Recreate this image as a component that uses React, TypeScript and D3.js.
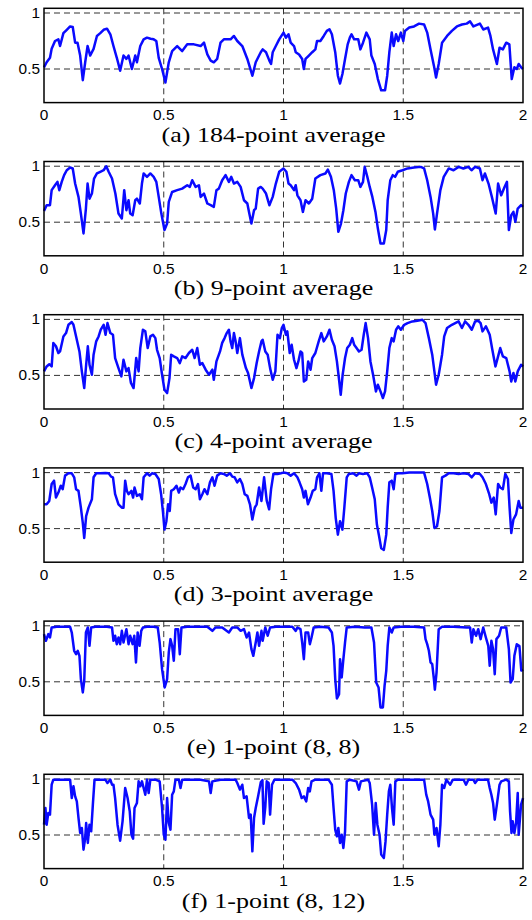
import React, { useEffect, useRef } from "react";
import * as d3 from "d3";

// panel captions, top to bottom
const captions = [
  "(a) 184-point average",
  "(b) 9-point average",
  "(c) 4-point average",
  "(d) 3-point average",
  "(e) 1-point (8, 8)",
  "(f) 1-point (8, 12)",
];

const xTicks = [0, 0.5, 1, 1.5, 2];
const xTickLabels = ["0", "0.5", "1", "1.5", "2"];
const yTicks = [0.5, 1];
const yTickLabels = ["0.5", "1"];

// [x, value]
const avg184: [number, number][] = [
  [0,0.515],[0.011,0.56],[0.025,0.6],[0.032,0.68],[0.046,0.75],[0.06,0.765],[0.067,0.705],[0.081,0.82],[0.095,0.85],[0.109,0.88],[0.12,0.875],[0.13,0.735],[0.14,0.735],[0.151,0.62],[0.162,0.4],[0.172,0.56],[0.182,0.705],[0.193,0.62],[0.207,0.68],[0.221,0.795],[0.235,0.82],[0.249,0.85],[0.263,0.86],[0.277,0.81],[0.29,0.705],[0.304,0.6],[0.318,0.485],[0.332,0.62],[0.344,0.59],[0.353,0.62],[0.367,0.5],[0.381,0.62],[0.388,0.56],[0.402,0.705],[0.416,0.765],[0.43,0.78],[0.445,0.77],[0.458,0.765],[0.469,0.75],[0.479,0.6],[0.493,0.5],[0.507,0.38],[0.521,0.56],[0.535,0.66],[0.556,0.705],[0.577,0.66],[0.598,0.72],[0.626,0.72],[0.654,0.705],[0.668,0.735],[0.682,0.63],[0.696,0.575],[0.709,0.56],[0.723,0.59],[0.737,0.735],[0.751,0.765],[0.779,0.765],[0.793,0.795],[0.807,0.75],[0.828,0.705],[0.849,0.59],[0.87,0.44],[0.884,0.56],[0.905,0.65],[0.913,0.675],[0.927,0.65],[0.941,0.575],[0.948,0.545],[0.955,0.65],[0.968,0.705],[0.982,0.765],[1.0,0.825],[1.01,0.78],[1.021,0.81],[1.03,0.735],[1.044,0.705],[1.051,0.65],[1.065,0.63],[1.078,0.59],[1.085,0.5],[1.092,0.59],[1.106,0.62],[1.12,0.65],[1.133,0.675],[1.14,0.75],[1.154,0.75],[1.168,0.795],[1.181,0.84],[1.192,0.855],[1.202,0.81],[1.216,0.65],[1.227,0.44],[1.236,0.37],[1.246,0.455],[1.257,0.59],[1.268,0.72],[1.277,0.78],[1.284,0.81],[1.295,0.765],[1.312,0.765],[1.321,0.675],[1.332,0.735],[1.346,0.825],[1.36,0.765],[1.367,0.62],[1.381,0.545],[1.394,0.41],[1.408,0.31],[1.424,0.31],[1.433,0.44],[1.442,0.65],[1.452,0.825],[1.46,0.705],[1.47,0.81],[1.479,0.75],[1.49,0.825],[1.5,0.75],[1.507,0.84],[1.525,0.87],[1.545,0.88],[1.566,0.905],[1.587,0.897],[1.6,0.825],[1.614,0.675],[1.628,0.53],[1.637,0.425],[1.648,0.545],[1.662,0.735],[1.683,0.795],[1.703,0.84],[1.724,0.88],[1.745,0.897],[1.765,0.905],[1.779,0.925],[1.793,0.88],[1.82,0.905],[1.834,0.853],[1.854,0.87],[1.864,0.795],[1.875,0.675],[1.891,0.545],[1.902,0.69],[1.916,0.675],[1.93,0.735],[1.943,0.72],[1.953,0.41],[1.964,0.515],[1.974,0.5],[1.982,0.545],[1.992,0.515],[2.0,0.5],
];

const avg9: [number, number][] = [
  [0,0.6],[0.011,0.652],[0.025,0.652],[0.032,0.786],[0.046,0.83],[0.056,0.86],[0.064,0.786],[0.074,0.86],[0.084,0.92],[0.095,0.964],[0.109,0.988],[0.12,0.98],[0.13,0.845],[0.144,0.726],[0.154,0.577],[0.165,0.4],[0.175,0.622],[0.182,0.845],[0.19,0.71],[0.2,0.756],[0.209,0.89],[0.221,0.935],[0.235,0.95],[0.249,0.964],[0.26,1.0],[0.27,0.95],[0.284,0.89],[0.298,0.756],[0.311,0.577],[0.325,0.533],[0.335,0.786],[0.344,0.607],[0.353,0.696],[0.36,0.577],[0.37,0.562],[0.381,0.696],[0.388,0.71],[0.4,0.667],[0.409,0.845],[0.416,0.935],[0.43,0.905],[0.444,0.935],[0.458,0.905],[0.469,0.86],[0.479,0.726],[0.49,0.577],[0.503,0.43],[0.514,0.488],[0.521,0.682],[0.535,0.77],[0.556,0.786],[0.577,0.8],[0.598,0.83],[0.609,0.815],[0.619,0.875],[0.633,0.815],[0.647,0.83],[0.654,0.726],[0.668,0.756],[0.682,0.667],[0.696,0.652],[0.709,0.637],[0.72,0.786],[0.73,0.8],[0.744,0.875],[0.758,0.92],[0.772,0.86],[0.782,0.905],[0.793,0.845],[0.807,0.86],[0.821,0.815],[0.835,0.696],[0.849,0.667],[0.856,0.592],[0.866,0.488],[0.877,0.607],[0.884,0.622],[0.894,0.8],[0.905,0.815],[0.913,0.8],[0.927,0.756],[0.941,0.652],[0.955,0.726],[0.968,0.845],[0.982,0.95],[1.0,0.98],[1.012,0.95],[1.021,0.845],[1.03,0.83],[1.044,0.786],[1.051,0.83],[1.058,0.74],[1.071,0.696],[1.081,0.592],[1.092,0.696],[1.106,0.667],[1.12,0.71],[1.133,0.89],[1.154,0.92],[1.175,0.935],[1.185,0.97],[1.198,0.905],[1.21,0.786],[1.22,0.622],[1.229,0.414],[1.24,0.488],[1.25,0.607],[1.26,0.756],[1.273,0.86],[1.284,0.92],[1.298,0.875],[1.312,0.875],[1.321,0.815],[1.332,0.86],[1.339,0.994],[1.35,0.905],[1.36,0.815],[1.371,0.726],[1.384,0.592],[1.394,0.443],[1.405,0.31],[1.419,0.31],[1.429,0.43],[1.435,0.696],[1.446,0.875],[1.456,0.92],[1.466,0.905],[1.477,0.95],[1.497,0.964],[1.518,0.98],[1.545,0.988],[1.573,0.994],[1.587,0.98],[1.6,0.875],[1.614,0.726],[1.625,0.577],[1.632,0.435],[1.641,0.577],[1.655,0.786],[1.669,0.905],[1.69,0.98],[1.71,0.964],[1.731,0.994],[1.751,0.98],[1.772,0.994],[1.785,0.964],[1.8,0.994],[1.82,0.98],[1.831,0.875],[1.841,0.935],[1.856,0.845],[1.87,0.726],[1.886,0.577],[1.896,0.845],[1.909,0.74],[1.923,0.815],[1.933,0.86],[1.941,0.43],[1.951,0.562],[1.96,0.592],[1.968,0.503],[1.978,0.622],[1.992,0.652],[2.0,0.637],
];

const avg4: [number, number][] = [
  [0,0.536],[0.011,0.58],[0.022,0.6],[0.032,0.58],[0.039,0.79],[0.05,0.76],[0.06,0.7],[0.067,0.714],[0.081,0.848],[0.092,0.878],[0.102,0.952],[0.116,0.976],[0.123,0.952],[0.134,0.848],[0.148,0.714],[0.158,0.536],[0.168,0.387],[0.176,0.595],[0.183,0.76],[0.19,0.595],[0.2,0.506],[0.207,0.685],[0.218,0.804],[0.228,0.848],[0.237,0.908],[0.249,0.952],[0.257,0.863],[0.265,0.967],[0.277,0.878],[0.288,0.863],[0.297,0.655],[0.311,0.565],[0.323,0.491],[0.332,0.64],[0.344,0.536],[0.353,0.565],[0.363,0.432],[0.374,0.387],[0.385,0.655],[0.395,0.536],[0.402,0.744],[0.413,0.908],[0.423,0.893],[0.433,0.744],[0.444,0.848],[0.455,0.863],[0.465,0.833],[0.472,0.729],[0.483,0.655],[0.493,0.506],[0.503,0.372],[0.514,0.342],[0.524,0.476],[0.531,0.685],[0.542,0.67],[0.556,0.655],[0.567,0.61],[0.577,0.67],[0.591,0.655],[0.605,0.7],[0.619,0.729],[0.629,0.655],[0.64,0.744],[0.651,0.595],[0.661,0.61],[0.675,0.551],[0.689,0.506],[0.703,0.551],[0.709,0.461],[0.72,0.625],[0.735,0.714],[0.744,0.79],[0.754,0.833],[0.763,0.878],[0.772,0.908],[0.779,0.804],[0.786,0.744],[0.793,0.878],[0.8,0.804],[0.807,0.7],[0.818,0.833],[0.828,0.685],[0.843,0.565],[0.852,0.521],[0.866,0.387],[0.877,0.476],[0.888,0.61],[0.898,0.714],[0.908,0.804],[0.913,0.818],[0.924,0.714],[0.934,0.685],[0.944,0.565],[0.955,0.461],[0.966,0.536],[0.975,0.863],[0.985,0.833],[0.993,0.923],[1.0,0.952],[1.01,0.863],[1.016,0.893],[1.026,0.7],[1.034,0.774],[1.044,0.64],[1.054,0.565],[1.062,0.625],[1.071,0.714],[1.078,0.7],[1.085,0.446],[1.095,0.461],[1.103,0.625],[1.113,0.551],[1.12,0.655],[1.133,0.7],[1.147,0.804],[1.158,0.878],[1.168,0.804],[1.181,0.848],[1.192,0.908],[1.202,0.818],[1.213,0.76],[1.223,0.625],[1.232,0.461],[1.239,0.327],[1.247,0.506],[1.257,0.655],[1.266,0.744],[1.277,0.774],[1.287,0.833],[1.295,0.774],[1.305,0.744],[1.315,0.714],[1.326,0.729],[1.335,0.863],[1.343,0.967],[1.353,0.833],[1.363,0.625],[1.374,0.506],[1.386,0.357],[1.394,0.417],[1.405,0.357],[1.415,0.298],[1.424,0.357],[1.433,0.536],[1.442,0.744],[1.452,0.833],[1.46,0.804],[1.47,0.908],[1.479,0.938],[1.49,0.908],[1.504,0.952],[1.518,0.967],[1.538,0.982],[1.559,0.988],[1.58,0.997],[1.593,0.967],[1.607,0.833],[1.621,0.685],[1.63,0.536],[1.637,0.417],[1.648,0.506],[1.662,0.685],[1.671,0.848],[1.683,0.923],[1.703,0.952],[1.717,0.967],[1.731,0.982],[1.745,0.923],[1.758,0.982],[1.772,0.952],[1.786,0.908],[1.8,0.982],[1.813,0.988],[1.823,0.967],[1.831,0.893],[1.845,0.938],[1.861,0.863],[1.872,0.729],[1.885,0.58],[1.896,0.67],[1.905,0.744],[1.916,0.67],[1.93,0.655],[1.944,0.536],[1.951,0.446],[1.96,0.521],[1.968,0.446],[1.978,0.536],[1.992,0.595],[2.0,0.58],
];

const avg3: [number, number][] = [
  [0,0.717],[0.011,0.717],[0.022,0.747],[0.032,0.898],[0.042,0.928],[0.05,0.777],[0.06,0.822],[0.07,0.883],[0.078,0.852],[0.088,0.973],[0.102,0.994],[0.116,0.994],[0.126,0.958],[0.134,0.852],[0.144,0.837],[0.154,0.687],[0.162,0.551],[0.168,0.416],[0.176,0.611],[0.186,0.687],[0.2,0.762],[0.207,0.958],[0.218,0.994],[0.235,0.994],[0.256,0.997],[0.27,0.994],[0.28,0.964],[0.288,0.958],[0.297,0.807],[0.311,0.717],[0.325,0.687],[0.332,0.687],[0.339,0.928],[0.346,0.837],[0.353,0.807],[0.365,0.837],[0.372,0.777],[0.378,0.867],[0.388,0.792],[0.4,0.807],[0.409,0.762],[0.416,0.958],[0.43,0.994],[0.441,0.973],[0.451,0.994],[0.465,0.988],[0.479,0.943],[0.489,0.807],[0.497,0.642],[0.503,0.491],[0.511,0.566],[0.518,0.717],[0.525,0.657],[0.531,0.837],[0.542,0.852],[0.553,0.883],[0.563,0.822],[0.57,0.867],[0.581,0.852],[0.591,0.898],[0.601,0.958],[0.612,0.973],[0.623,0.867],[0.633,0.852],[0.643,0.898],[0.651,0.762],[0.661,0.807],[0.67,0.852],[0.682,0.807],[0.693,0.913],[0.703,0.958],[0.712,0.883],[0.723,0.973],[0.737,0.994],[0.751,0.988],[0.763,0.973],[0.777,0.994],[0.786,0.964],[0.796,0.958],[0.807,0.913],[0.818,0.943],[0.828,0.898],[0.838,0.807],[0.849,0.792],[0.86,0.717],[0.87,0.581],[0.88,0.687],[0.888,0.717],[0.898,0.867],[0.908,0.747],[0.919,0.958],[0.93,0.75],[0.94,0.672],[0.948,0.85],[0.958,0.99],[0.975,0.988],[0.989,0.994],[1.0,1.0],[1.016,0.994],[1.03,0.973],[1.044,0.994],[1.058,0.958],[1.067,0.913],[1.078,0.852],[1.085,0.777],[1.092,0.837],[1.102,0.717],[1.113,0.777],[1.122,0.837],[1.133,0.852],[1.14,0.958],[1.15,0.994],[1.158,0.837],[1.165,0.994],[1.181,0.994],[1.2,0.988],[1.209,0.837],[1.218,0.596],[1.227,0.446],[1.236,0.566],[1.246,0.491],[1.254,0.687],[1.264,0.958],[1.273,0.988],[1.291,0.994],[1.305,0.973],[1.315,0.994],[1.332,0.988],[1.35,0.994],[1.36,0.958],[1.37,0.867],[1.381,0.762],[1.39,0.536],[1.398,0.446],[1.408,0.325],[1.419,0.31],[1.429,0.446],[1.435,0.687],[1.442,0.913],[1.452,0.928],[1.46,0.852],[1.467,0.988],[1.477,0.994],[1.497,0.994],[1.525,1.0],[1.559,1.0],[1.587,1.0],[1.6,0.898],[1.611,0.777],[1.621,0.657],[1.63,0.506],[1.641,0.521],[1.651,0.657],[1.662,0.958],[1.676,0.973],[1.69,0.994],[1.71,0.994],[1.731,0.988],[1.751,0.994],[1.772,0.988],[1.786,0.958],[1.8,0.994],[1.82,0.988],[1.831,0.958],[1.845,0.898],[1.859,0.807],[1.868,0.732],[1.878,0.777],[1.886,0.627],[1.896,0.898],[1.905,0.867],[1.916,0.852],[1.926,0.988],[1.937,0.943],[1.944,0.687],[1.951,0.461],[1.96,0.581],[1.971,0.627],[1.982,0.747],[1.989,0.687],[2.0,0.687],
];

const one88: [number, number][] = [
  [0,0.926],[0.008,0.866],[0.018,0.926],[0.025,0.896],[0.032,0.985],[0.053,0.991],[0.081,0.991],[0.109,0.991],[0.116,0.94],[0.126,0.777],[0.134,0.747],[0.141,0.777],[0.148,0.732],[0.154,0.524],[0.162,0.405],[0.168,0.509],[0.175,0.94],[0.183,0.985],[0.19,0.821],[0.197,0.985],[0.214,0.991],[0.235,0.991],[0.263,0.991],[0.284,0.985],[0.29,0.866],[0.297,0.911],[0.304,0.836],[0.311,0.896],[0.318,0.836],[0.325,0.955],[0.332,0.851],[0.344,0.97],[0.353,0.836],[0.36,0.911],[0.37,0.836],[0.377,0.911],[0.384,0.673],[0.391,0.94],[0.399,0.821],[0.406,0.955],[0.413,0.985],[0.43,0.991],[0.458,0.991],[0.475,0.985],[0.483,0.851],[0.493,0.613],[0.504,0.449],[0.514,0.524],[0.521,0.762],[0.528,0.881],[0.535,0.821],[0.542,0.688],[0.549,0.97],[0.56,0.97],[0.567,0.747],[0.574,0.985],[0.598,0.991],[0.64,0.991],[0.682,0.991],[0.703,0.955],[0.716,0.985],[0.744,0.985],[0.772,0.94],[0.786,0.985],[0.807,0.985],[0.821,0.955],[0.835,0.97],[0.846,0.896],[0.856,0.94],[0.866,0.792],[0.874,0.732],[0.884,0.851],[0.891,0.94],[0.898,0.821],[0.908,0.955],[0.913,0.866],[0.924,0.985],[0.934,0.911],[0.944,0.985],[0.968,0.991],[1.0,0.991],[1.037,0.991],[1.051,0.955],[1.058,0.985],[1.071,0.97],[1.078,0.851],[1.085,0.702],[1.092,0.94],[1.103,0.94],[1.11,0.836],[1.117,0.896],[1.126,0.985],[1.154,0.991],[1.188,0.985],[1.202,0.94],[1.209,0.821],[1.216,0.524],[1.223,0.351],[1.232,0.39],[1.236,0.702],[1.243,0.539],[1.25,0.702],[1.257,0.851],[1.264,0.985],[1.298,0.991],[1.339,0.985],[1.367,0.985],[1.378,0.851],[1.387,0.494],[1.397,0.449],[1.405,0.271],[1.415,0.271],[1.422,0.464],[1.429,0.598],[1.435,0.821],[1.442,0.985],[1.452,0.94],[1.46,0.985],[1.49,0.991],[1.545,0.991],[1.587,0.985],[1.593,0.881],[1.6,0.836],[1.607,0.777],[1.614,0.673],[1.621,0.658],[1.628,0.524],[1.632,0.429],[1.639,0.583],[1.648,0.97],[1.662,0.991],[1.71,0.991],[1.765,0.985],[1.779,0.985],[1.786,0.851],[1.793,0.97],[1.804,0.911],[1.813,0.97],[1.823,0.881],[1.834,0.985],[1.845,0.896],[1.855,0.821],[1.861,0.643],[1.868,0.866],[1.875,0.792],[1.882,0.568],[1.889,0.881],[1.9,0.911],[1.909,0.985],[1.93,0.985],[1.941,0.792],[1.948,0.494],[1.957,0.524],[1.964,0.732],[1.974,0.836],[1.985,0.82],[1.993,0.6],[2.0,0.61],
];

const one812: [number, number][] = [
  [0,0.592],[0.006,0.741],[0.011,0.592],[0.018,0.696],[0.025,0.682],[0.032,0.949],[0.039,0.994],[0.067,0.994],[0.109,0.994],[0.116,0.83],[0.123,0.935],[0.13,0.845],[0.137,0.8],[0.144,0.652],[0.151,0.518],[0.158,0.563],[0.165,0.369],[0.172,0.473],[0.176,0.607],[0.183,0.429],[0.19,0.592],[0.197,0.533],[0.204,0.771],[0.211,0.994],[0.235,0.994],[0.256,0.994],[0.265,0.964],[0.277,0.994],[0.284,0.949],[0.29,0.949],[0.297,0.83],[0.307,0.592],[0.318,0.449],[0.328,0.622],[0.339,0.92],[0.349,0.83],[0.358,0.711],[0.365,0.503],[0.372,0.467],[0.378,0.741],[0.388,0.786],[0.395,0.979],[0.402,0.935],[0.409,0.979],[0.416,0.92],[0.423,0.86],[0.43,0.994],[0.437,0.875],[0.444,0.994],[0.465,0.994],[0.483,0.979],[0.493,0.741],[0.5,0.503],[0.507,0.458],[0.514,0.83],[0.521,0.607],[0.528,0.548],[0.535,0.86],[0.542,0.89],[0.549,0.994],[0.563,0.994],[0.57,0.92],[0.577,0.994],[0.654,0.994],[0.689,0.979],[0.696,0.875],[0.703,0.979],[0.737,0.994],[0.8,0.994],[0.807,0.964],[0.818,0.905],[0.828,0.949],[0.835,0.83],[0.846,0.845],[0.856,0.652],[0.863,0.682],[0.87,0.354],[0.877,0.652],[0.884,0.741],[0.894,0.845],[0.905,0.97],[0.912,0.99],[0.917,0.6],[0.924,0.75],[0.93,0.979],[0.938,0.964],[0.944,0.682],[0.952,0.949],[0.962,0.994],[1.0,0.994],[1.037,0.994],[1.051,0.964],[1.065,0.905],[1.076,0.83],[1.085,0.845],[1.095,0.8],[1.103,0.92],[1.11,0.89],[1.117,0.979],[1.133,0.994],[1.188,0.994],[1.202,0.949],[1.209,0.741],[1.216,0.548],[1.223,0.488],[1.229,0.563],[1.236,0.429],[1.243,0.503],[1.25,0.384],[1.257,0.533],[1.264,0.979],[1.277,0.994],[1.305,0.979],[1.315,0.905],[1.323,0.979],[1.353,0.994],[1.36,0.964],[1.37,0.771],[1.378,0.503],[1.385,0.786],[1.392,0.592],[1.401,0.503],[1.408,0.325],[1.419,0.295],[1.426,0.443],[1.433,0.682],[1.44,0.89],[1.446,0.949],[1.453,0.741],[1.46,0.592],[1.467,0.979],[1.477,0.994],[1.518,0.994],[1.587,0.994],[1.596,0.86],[1.604,0.8],[1.614,0.682],[1.625,0.637],[1.63,0.503],[1.639,0.563],[1.648,0.399],[1.655,0.592],[1.662,0.949],[1.671,0.92],[1.68,0.994],[1.696,0.949],[1.707,0.994],[1.738,0.994],[1.752,0.994],[1.762,0.949],[1.772,0.994],[1.793,0.994],[1.8,0.964],[1.81,0.994],[1.834,0.994],[1.854,0.994],[1.861,0.92],[1.868,0.86],[1.875,0.786],[1.882,0.637],[1.891,0.771],[1.902,0.949],[1.909,0.979],[1.93,0.994],[1.941,0.979],[1.946,0.711],[1.952,0.518],[1.957,0.622],[1.964,0.518],[1.971,0.607],[1.978,0.875],[1.982,0.503],[1.992,0.771],[2.0,0.83],
];

const panels = [avg184, avg9, avg4, avg3, one88, one812];

export default function App() {
  const ref = useRef<SVGSVGElement>(null);

  useEffect(() => {
    const svg = d3.select(ref.current);
    svg.selectAll("*").remove();

    const left = 44, right = 523;
    const plotH = 94.3;
    const x = d3.scaleLinear().domain([0, 2]).range([left, right]);

    panels.forEach((data, i) => {
      const top = 8.3 + i * 153.2;
      const y = d3.scaleLinear().domain([0.2, 1.042]).range([top + plotH, top]);
      const g = svg.append("g");

      // dashed grid
      g.selectAll(".vgrid")
        .data(xTicks.slice(1, -1))
        .enter().append("line")
        .attr("x1", (d) => x(d)).attr("x2", (d) => x(d))
        .attr("y1", top).attr("y2", top + plotH)
        .attr("stroke", "#333").attr("stroke-width", 1)
        .attr("stroke-dasharray", "6,4");
      g.selectAll(".hgrid")
        .data(yTicks)
        .enter().append("line")
        .attr("x1", left).attr("x2", right)
        .attr("y1", (d) => y(d)).attr("y2", (d) => y(d))
        .attr("stroke", "#333").attr("stroke-width", 1)
        .attr("stroke-dasharray", "6,4");

      const line = d3.line<[number, number]>()
        .x((d) => x(d[0]))
        .y((d) => y(d[1]));

      g.append("path")
        .datum(data)
        .attr("d", line)
        .attr("fill", "none")
        .attr("stroke", "#0a0aff")
        .attr("stroke-width", 2.5)
        .attr("stroke-linejoin", "round");

      g.append("rect")
        .attr("x", left).attr("y", top)
        .attr("width", right - left).attr("height", plotH)
        .attr("fill", "none").attr("stroke", "#000").attr("stroke-width", 1.5);

      // tick labels
      g.selectAll(".ylab")
        .data(yTicks)
        .enter().append("text")
        .attr("transform", (d) => "translate(40," + y(d) + ") scale(1.1,1)")
        .attr("dy", "0.36em")
        .attr("text-anchor", "end")
        .style("font-family", "'Liberation Sans', Arial, sans-serif")
        .style("font-size", "14px")
        .text((d, j) => yTickLabels[j]);

      g.selectAll(".xlab")
        .data(xTicks)
        .enter().append("text")
        .attr("transform", (d) => "translate(" + x(d) + "," + (top + plotH + 17.7) + ") scale(1.1,1)")
        .attr("text-anchor", "middle")
        .style("font-family", "'Liberation Sans', Arial, sans-serif")
        .style("font-size", "14px")
        .text((d, j) => xTickLabels[j]);

      g.append("text")
        .attr("transform", "translate(273.5," + (top + plotH + 39) + ") scale(1.24,1)")
        .attr("text-anchor", "middle")
        .style("font-family", "'Liberation Serif', 'Times New Roman', serif")
        .style("font-size", "21px")
        .text(captions[i]);
    });
  }, []);

  return (
    <svg
      ref={ref}
      width={532}
      height={920}
      style={{ position: "absolute", left: 0, top: 0, background: "#fff" }}
    />
  );
}
